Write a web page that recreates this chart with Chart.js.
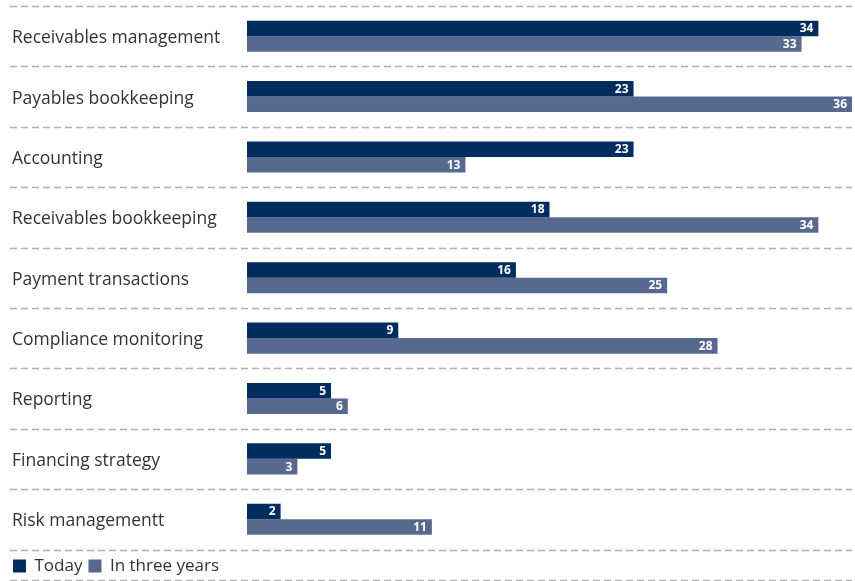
<!DOCTYPE html>
<html>
<head>
<meta charset="utf-8">
<script src="https://cdn.jsdelivr.net/npm/chart.js@4/dist/chart.umd.min.js"></script>
<style>
  html, body { margin: 0; padding: 0; background: #fff; }
  #wrap { width: 855px; height: 581px; position: relative; }
</style>
</head>
<body>
<div id="wrap"><canvas id="c"></canvas></div>
<script>
// Finance tasks: share today vs. in three years
const categories = [
  'Receivables management',
  'Payables bookkeeping',
  'Accounting',
  'Receivables bookkeeping',
  'Payment transactions',
  'Compliance monitoring',
  'Reporting',
  'Financing strategy',
  'Risk managementt'
];
const todayValues = [34, 23, 23, 18, 16, 9, 5, 5, 2];
const threeYearValues = [33, 36, 13, 34, 25, 28, 6, 3, 11];
const seriesNames = ['Today', 'In three years'];

const DARK = '#002d5e';
const SLATE = '#58698f';
const FONT = "'Open Sans', 'Noto Sans', sans-serif";

// Dashed separators between category bands, plus the rule under the legend
const separators = {
  id: 'separators',
  afterLayout(chart) {
    // pull the legend flush with the left margin and centre it between its rules
    chart.legend.left = 7;
    chart.legend.top += 2;
  },
  beforeDatasetsDraw(chart) {
    const ctx = chart.ctx;
    const y = chart.scales.y;
    const n = categories.length;
    const ys = [];
    for (let i = 0; i <= n; i++) {
      if (i === 0) ys.push(y.top);
      else if (i === n) ys.push(y.bottom + 1);
      else ys.push((y.getPixelForValue(i - 1) + y.getPixelForValue(i)) / 2);
    }
    ys.push(chart.height - 1.5);
    ctx.save();
    ctx.strokeStyle = '#b0b0b0';
    ctx.lineWidth = 1.5;
    ctx.setLineDash([7, 4]);
    ys.forEach(py => {
      const yy = Math.round(py) + 0.5;
      ctx.beginPath();
      ctx.moveTo(10, yy);
      ctx.lineTo(chart.chartArea.right, yy);
      ctx.stroke();
    });
    ctx.restore();
  }
};

// Value labels inside the end of each bar
const valueLabels = {
  id: 'valueLabels',
  afterDatasetsDraw(chart) {
    const ctx = chart.ctx;
    ctx.save();
    ctx.fillStyle = '#ffffff';
    ctx.font = "bold 12px " + FONT;
    ctx.textAlign = 'right';
    ctx.textBaseline = 'middle';
    chart.data.datasets.forEach((ds, di) => {
      chart.getDatasetMeta(di).data.forEach((bar, i) => {
        ctx.fillText(String(ds.data[i]), bar.x - 5, bar.y + 0.5);
      });
    });
    ctx.restore();
  }
};

new Chart(document.getElementById('c'), {
  type: 'bar',
  data: {
    labels: categories,
    datasets: [
      { label: seriesNames[0], data: todayValues, backgroundColor: DARK },
      { label: seriesNames[1], data: threeYearValues, backgroundColor: SLATE }
    ]
  },
  options: {
    indexAxis: 'y',
    responsive: true,
    maintainAspectRatio: false,
    animation: false,
    layout: { padding: { top: 6, left: 12, right: 3, bottom: -1.4 } },
    datasets: {
      bar: { categoryPercentage: 0.515, barPercentage: 1.0 }
    },
    scales: {
      x: { display: false, min: 0, max: 36 },
      y: {
        grid: { display: false },
        border: { display: false },
        afterFit(scale) { scale.width = 235; },
        ticks: {
          crossAlign: 'far',
          color: '#333333',
          padding: 0,
          labelOffset: 2,
          font: { family: FONT, size: 17.5, lineHeight: 0.68 }
        }
      }
    },
    plugins: {
      tooltip: { enabled: false },
      legend: {
        position: 'bottom',
        align: 'start',
        labels: {
          boxWidth: 13,
          boxHeight: 13,
          padding: 6,
          color: '#333333',
          font: { family: FONT, size: 17 }
        }
      }
    }
  },
  plugins: [separators, valueLabels]
});
</script>
</body>
</html>
